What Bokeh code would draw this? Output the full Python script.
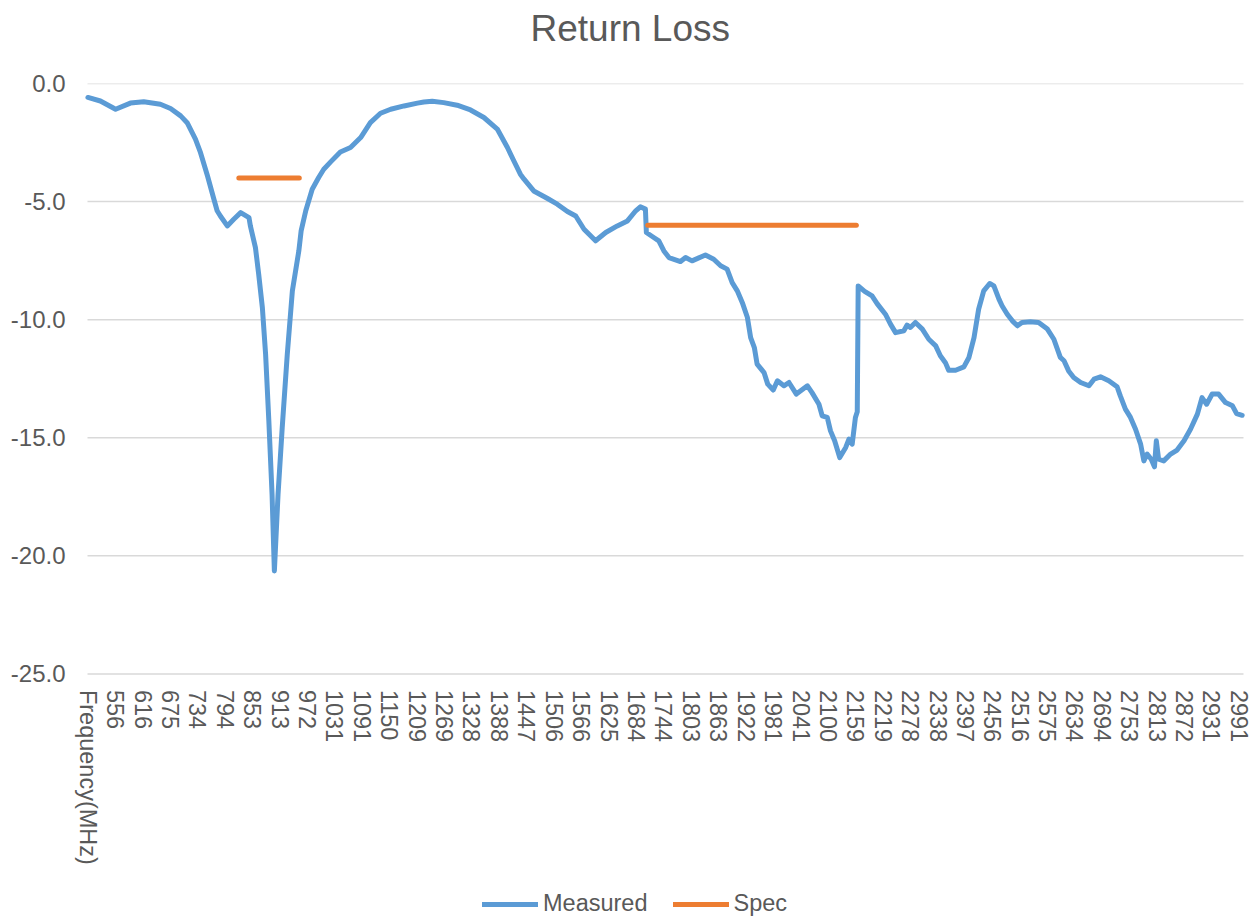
import math
from bokeh.plotting import figure
from bokeh.models import (Range1d, FixedTicker, PrintfTickFormatter, Legend, LegendItem, Title)
from bokeh.embed import file_html
from bokeh.resources import INLINE

# ---------------- data ----------------
tick_labels = ["Frequency(MHz)", "556", "616", "675", "734", "794", "853", "913", "972",
               "1031", "1091", "1150", "1209", "1269", "1328", "1388", "1447", "1506",
               "1566", "1625", "1684", "1744", "1803", "1863", "1922", "1981", "2041",
               "2100", "2159", "2219", "2278", "2338", "2397", "2456", "2516", "2575",
               "2634", "2694", "2753", "2813", "2872", "2931", "2991"]
header_freq = 497  # category position of the header label
category_span = (496.1, 3000.9)  # first/last category edges of the category axis

freq_mhz = [497, 524, 557, 589, 618, 654, 676, 698, 712, 730, 741, 756, 770, 777, 784, 799,
            813, 828, 846, 849, 860, 867, 875, 882, 889, 896, 901, 909, 918, 929, 940, 947,
            954, 959, 969, 983, 997, 1008, 1023, 1044, 1066, 1088, 1109, 1131, 1153, 1182,
            1211, 1225, 1243, 1268, 1297, 1326, 1355, 1384, 1406, 1420, 1434, 1442, 1463,
            1492, 1514, 1536, 1554, 1572, 1597, 1619, 1644, 1666, 1684, 1694, 1705, 1707,
            1723, 1734, 1745, 1756, 1781, 1792, 1806, 1835, 1853, 1868, 1882, 1893, 1904,
            1915, 1926, 1933, 1941, 1947, 1962, 1970, 1982, 1991, 2005, 2016, 2032, 2056,
            2066, 2081, 2088, 2099, 2106, 2115, 2126, 2139, 2146, 2153, 2160, 2164, 2166,
            2180, 2196, 2207, 2225, 2236, 2247, 2265, 2272, 2279, 2290, 2305, 2319, 2334,
            2344, 2355, 2362, 2377, 2395, 2406, 2417, 2427, 2438, 2451, 2460, 2471, 2478,
            2489, 2500, 2511, 2521, 2539, 2557, 2576, 2590, 2604, 2612, 2622, 2633, 2648,
            2666, 2677, 2691, 2709, 2727, 2734, 2745, 2756, 2767, 2778, 2785, 2792, 2801,
            2808, 2812, 2817, 2828, 2843, 2857, 2872, 2886, 2901, 2911, 2921, 2933, 2947,
            2962, 2977, 2986, 2998]
measured_db = [-0.59, -0.74, -1.09, -0.83, -0.77, -0.88, -1.06, -1.37, -1.66, -2.36, -2.93,
               -3.91, -4.90, -5.39, -5.61, -6.03, -5.75, -5.47, -5.68, -6.03, -6.95, -8.07,
               -9.49, -11.46, -14.28, -17.39, -20.64, -17.39, -14.57, -11.46, -8.78, -7.93,
               -7.09, -6.24, -5.39, -4.48, -3.98, -3.63, -3.32, -2.90, -2.71, -2.29, -1.66,
               -1.26, -1.09, -0.95, -0.83, -0.78, -0.75, -0.81, -0.92, -1.12, -1.44, -1.93,
               -2.71, -3.28, -3.84, -4.05, -4.55, -4.86, -5.11, -5.42, -5.61, -6.17, -6.66,
               -6.31, -6.03, -5.82, -5.39, -5.22, -5.32, -6.31, -6.52, -6.66, -7.09, -7.37,
               -7.54, -7.37, -7.51, -7.26, -7.44, -7.72, -7.86, -8.43, -8.78, -9.28, -9.91,
               -10.76, -11.18, -11.88, -12.24, -12.73, -12.98, -12.59, -12.80, -12.66, -13.15,
               -12.80, -13.09, -13.58, -14.07, -14.14, -14.71, -15.13, -15.84, -15.41, -15.06,
               -15.27, -14.14, -13.90, -8.57, -8.80, -8.99, -9.32, -9.77, -10.19, -10.55,
               -10.47, -10.23, -10.33, -10.12, -10.40, -10.83, -11.11, -11.53, -11.82, -12.14,
               -12.14, -12.00, -11.60, -10.76, -9.56, -8.78, -8.47, -8.57, -9.13, -9.42, -9.77,
               -10.05, -10.26, -10.12, -10.09, -10.12, -10.40, -10.83, -11.60, -11.74, -12.17,
               -12.45, -12.66, -12.80, -12.52, -12.42, -12.59, -12.84, -13.23, -13.79, -14.14,
               -14.64, -15.27, -15.98, -15.69, -15.91, -16.23, -15.13, -15.91, -15.98, -15.69,
               -15.52, -15.13, -14.64, -14.00, -13.30, -13.58, -13.15, -13.15, -13.51, -13.65,
               -13.98, -14.05]

spec_bands = [[824, 955], [1710, 2162]]
spec_levels = [-4.0, -6.0]

y_ticks = [-25, -20, -15, -10, -5, 0]
y_axis_min = -25

# ---------------- styling ----------------
FONT = "Liberation Sans"
TEXT = "#595959"
BLUE = "#5B9BD5"
ORANGE = "#ED7D31"
GRID = "#D9D9D9"

tick_freqs = [header_freq] + [int(t) for t in tick_labels[1:]]

# Geometry: the chart area is 1156 x 590 px (left 87, top 83).  The drawing frame is made a
# little larger (left 70, right 1252, bottom 918) so that the end tick labels and the legend,
# which are drawn inside it, are not clipped.  Scales are unchanged.
AREA_W, AREA_H = 1156, 590.4
FRAME_LEFT_PAD, FRAME_RIGHT_PAD = 17, 9
FRAME_W = AREA_W + FRAME_LEFT_PAD + FRAME_RIGHT_PAD
FRAME_H = 835
px_per_mhz = AREA_W / (category_span[1] - category_span[0])
x_lo = category_span[0] - FRAME_LEFT_PAD / px_per_mhz
x_hi = category_span[1] + FRAME_RIGHT_PAD / px_per_mhz
y_bottom = y_axis_min * FRAME_H / AREA_H

p = figure(frame_width=FRAME_W, frame_height=FRAME_H, output_backend="svg",
           toolbar_location=None,
           x_range=Range1d(x_lo, x_hi), y_range=Range1d(y_bottom, 0),
           min_border_left=70, min_border_right=0, min_border_top=83, min_border_bottom=0)
p.outline_line_color = None
p.background_fill_color = "white"
p.border_fill_color = "white"

p.title.text = "Return Loss"
p.title.text_font = FONT
p.title.text_font_size = "37px"
p.title.text_font_style = "normal"
p.title.text_color = TEXT
p.title.align = "left"
p.title.offset = 460
p.title.standoff = 0
# spacer between the title and the plot area
p.add_layout(Title(text=" ", text_font_size="1px", standoff=32), "above")

# axes
p.xaxis.ticker = FixedTicker(ticks=tick_freqs)
p.xaxis.major_label_overrides = {f: lab for f, lab in zip(tick_freqs, tick_labels)}
p.xaxis.major_label_orientation = "vertical"
p.xaxis.fixed_location = y_axis_min
p.yaxis.ticker = FixedTicker(ticks=y_ticks)
p.yaxis.formatter = PrintfTickFormatter(format="%.1f")
for ax in (p.xaxis, p.yaxis):
    ax.axis_line_color = None
    ax.major_tick_line_color = None
    ax.minor_tick_line_color = None
    ax.major_label_text_font = FONT
    ax.major_label_text_color = TEXT
p.xaxis.major_label_text_font_size = "23.5px"
p.yaxis.major_label_text_font_size = "24px"
p.xaxis.major_label_standoff = 10
p.yaxis.major_tick_out = 0
p.yaxis.major_label_standoff = 5

# horizontal gridlines across the chart area only
p.xgrid.grid_line_color = None
p.ygrid.grid_line_color = None
n = len(y_ticks)
p.segment(x0=[category_span[0]] * n, x1=[category_span[1]] * n, y0=y_ticks, y1=y_ticks,
          line_color=GRID, line_width=1.5)

r_meas = p.line(freq_mhz, measured_db, line_color=BLUE, line_width=5,
                line_join="round", line_cap="round")
spec_xs = [band for band in spec_bands]
spec_ys = [[lvl, lvl] for lvl in spec_levels]
r_spec = p.multi_line(spec_xs, spec_ys, line_color=ORANGE, line_width=5, line_cap="round")

legend = Legend(items=[LegendItem(label="Measured", renderers=[r_meas]),
                       LegendItem(label="Spec", renderers=[r_spec])],
                orientation="horizontal", location=(412, 1),
                padding=0, spacing=25, label_standoff=5, margin=0,
                glyph_width=56, glyph_height=26, label_height=26,
                border_line_color=None, background_fill_alpha=0,
                label_text_font=FONT, label_text_font_size="23.5px",
                label_text_color=TEXT)
p.add_layout(legend, "center")

open("out.html", "w").write(file_html(p, INLINE))
